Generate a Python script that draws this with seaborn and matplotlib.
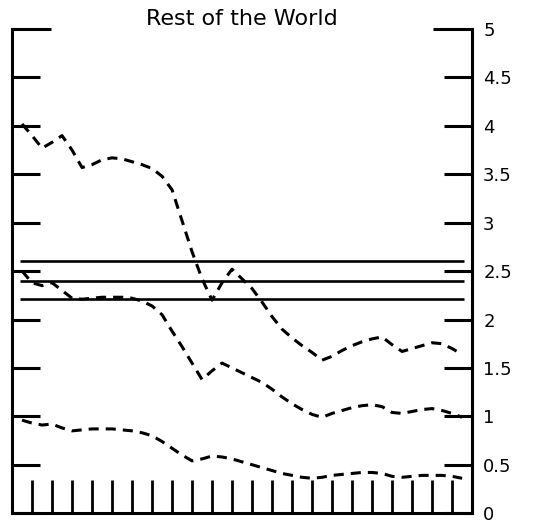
import matplotlib
matplotlib.use("Agg")
import matplotlib.pyplot as plt
import seaborn as sns
import pandas as pd

# x positions (years, read at half-year steps) and the three dashed series
x_vals = [-0.5, 0, 0.5, 1, 1.5, 2, 2.5, 3, 3.5, 4, 4.5, 5, 5.5, 6, 6.5, 7, 7.5,
          8, 8.5, 9, 9.5, 10, 10.5, 11, 11.5, 12, 12.5, 13, 13.5, 14, 14.5,
          15, 15.5, 16, 16.5, 17, 17.5, 18, 18.5, 19, 19.5, 20, 20.5, 21, 21.5]
upper = [4.02, 3.90, 3.77, 3.83, 3.90, 3.75, 3.57, 3.60, 3.65, 3.67, 3.66, 3.63,
         3.60, 3.56, 3.48, 3.34, 3.02, 2.70, 2.42, 2.20, 2.38, 2.52, 2.42, 2.32,
         2.18, 2.03, 1.90, 1.81, 1.73, 1.66, 1.58, 1.62, 1.68, 1.73, 1.77, 1.80,
         1.82, 1.74, 1.67, 1.70, 1.73, 1.76, 1.75, 1.70, 1.64]
middle = [2.50, 2.38, 2.35, 2.38, 2.30, 2.22, 2.21, 2.22, 2.23, 2.23, 2.23, 2.22,
          2.19, 2.14, 2.05, 1.88, 1.72, 1.55, 1.38, 1.47, 1.55, 1.50, 1.45, 1.40,
          1.35, 1.28, 1.20, 1.13, 1.07, 1.02, 0.99, 1.03, 1.06, 1.09, 1.11, 1.12,
          1.10, 1.04, 1.03, 1.05, 1.07, 1.08, 1.06, 1.03, 0.99]
lower = [0.96, 0.93, 0.91, 0.92, 0.88, 0.85, 0.86, 0.87, 0.87, 0.87, 0.86, 0.85,
         0.83, 0.80, 0.74, 0.67, 0.60, 0.54, 0.56, 0.59, 0.58, 0.56, 0.53, 0.50,
         0.47, 0.44, 0.41, 0.39, 0.37, 0.36, 0.37, 0.39, 0.40, 0.41, 0.42, 0.42,
         0.41, 0.38, 0.37, 0.38, 0.39, 0.39, 0.39, 0.38, 0.36]
# solid reference levels
levels = [2.60, 2.40, 2.21]

year_ticks = list(range(22))
y_major = [0, 0.5, 1, 1.5, 2, 2.5, 3, 3.5, 4, 4.5]
y_top = [5]

sns.set_style("ticks", {'axes.edgecolor': 'black', 'text.color': 'black',
                        'xtick.color': 'black', 'ytick.color': 'black'})
plt.rcParams['font.family'] = ['DejaVu Sans']

fig = plt.figure(figsize=(5.47, 5.29), dpi=100)
ax = fig.add_axes([0.022, 0.030, 0.841, 0.915])

df = pd.DataFrame({'x': x_vals, 'upper': upper, 'middle': middle, 'lower': lower})
for col in ['upper', 'middle', 'lower']:
    sns.lineplot(data=df, x='x', y=col, ax=ax, color='black', lw=2.2,
                 linestyle=(0, (3.3, 2.3)))

ax.hlines(levels, x_vals[0] - 0.1, x_vals[-1] + 0.1, color='black', lw=1.9)

ax.set_xlim(-1, 22)
ax.set_ylim(0, 5)
ax.set_xlabel('')
ax.set_ylabel('')

ax.spines['top'].set_visible(False)
for s in ['left', 'right', 'bottom']:
    ax.spines[s].set_visible(True)
    ax.spines[s].set_linewidth(2.2)
    ax.spines[s].set_color('black')

ax.set_xticks(year_ticks)
ax.set_xticklabels([])
ax.tick_params(axis='x', direction='in', length=24, width=2.0, bottom=True,
               color='black')

ax.set_yticks(y_major)
ax.set_yticks(y_top, minor=True)
ax.yaxis.set_major_formatter(matplotlib.ticker.FormatStrFormatter('%g'))
ax.yaxis.set_minor_formatter(matplotlib.ticker.FormatStrFormatter('%g'))
for which, ln in [('major', 20), ('minor', 28)]:
    ax.tick_params(axis='y', which=which, direction='in', length=ln, width=2.2,
                   left=True, right=True, labelleft=False, labelright=True,
                   labelsize=13, pad=8, color='black', labelcolor='black')

ax.set_title("Rest of the World", fontsize=16, pad=1, color='black')

fig.savefig("out.png", dpi=100)
